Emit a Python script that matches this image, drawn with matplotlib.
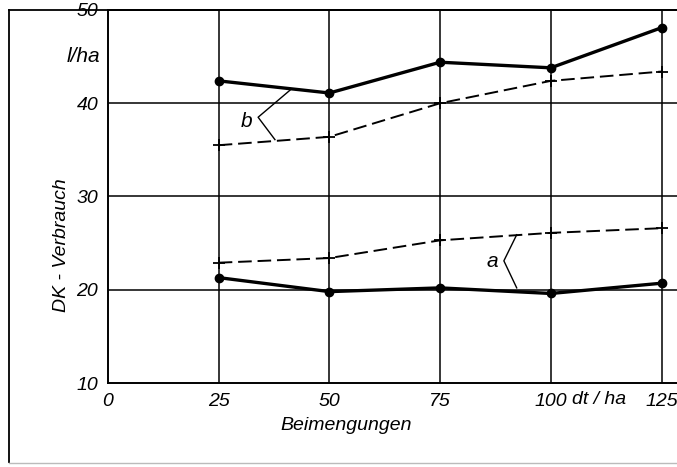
import matplotlib
matplotlib.use("Agg")
import matplotlib.pyplot as plt
from matplotlib.lines import Line2D

plt.rcParams['font.family'] = ['Liberation Sans', 'DejaVu Sans']

x = [25, 50, 75, 100, 125]
b_solid = [42.4, 41.1, 44.4, 43.8, 48.1]
b_dashed = [35.5, 36.4, 40.0, 42.4, 43.4]
a_solid = [21.3, 19.8, 20.2, 19.6, 20.7]
a_dashed = [22.9, 23.4, 25.3, 26.1, 26.6]
xticks = [0, 25, 50, 75, 100, 125]
xticklabels = ['0', '25', '50', '75', '100', '125']
yticks = [10, 20, 30, 40, 50]
yticklabels = ['10', '20', '30', '40', '50']

fig = plt.figure(figsize=(6.77, 4.67), dpi=100)
ax = fig.add_axes([108/677, 1-383/467, 1-108/677, 373/467])
ax.set_xlim(0, 128.5)
ax.set_ylim(10, 50)

# grid
for xv in x:
    ax.axvline(xv, color='black', lw=1.1, zorder=1)
for yv in [20, 30, 40]:
    ax.axhline(yv, color='black', lw=1.1, zorder=1)

ax.spines['right'].set_visible(False)
for s in ['left', 'bottom', 'top']:
    ax.spines[s].set_linewidth(1.4)

ax.set_xticks(xticks)
ax.set_xticklabels(xticklabels)
ax.set_yticks(yticks)
ax.set_yticklabels(yticklabels)
ax.tick_params(length=0, labelsize=14, pad=7)
for lab in ax.get_xticklabels() + ax.get_yticklabels():
    lab.set_style('italic')

lw_s, lw_d = 2.4, 1.4
dash = (0, (7, 3))
ax.plot(x, b_solid, color='black', lw=lw_s, marker='o', ms=6, zorder=3)
ax.plot(x, b_dashed, color='black', lw=lw_d, ls=dash, marker='+', ms=9, mew=1.3, zorder=3)
ax.plot(x, a_solid, color='black', lw=lw_s, marker='o', ms=6, zorder=3)
ax.plot(x, a_dashed, color='black', lw=lw_d, ls=dash, marker='+', ms=9, mew=1.3, zorder=3)

# bracket labels
ax.plot([41.1, 33.9, 37.7], [41.4, 38.5, 36.1], color='black', lw=1.0, zorder=3)
ax.text(32.5, 38.0, 'b', fontsize=15, style='italic', ha='right', va='center')
ax.plot([92.3, 89.4, 92.3], [25.9, 23.1, 20.2], color='black', lw=1.0, zorder=3)
ax.text(88.0, 23.0, 'a', fontsize=15, style='italic', ha='right', va='center')

ax.text(111, 8.2, 'dt / ha', fontsize=14, style='italic', ha='center', va='center',
        clip_on=False)
ax.text(-1.8, 45.0, 'l/ha', fontsize=15, style='italic', ha='right', va='center',
        clip_on=False)
ax.text(53.7, 5.4, 'Beimengungen', fontsize=14, style='italic', ha='center', va='center',
        clip_on=False)
fig.text(62/677, 1-245/467, 'DK - Verbrauch', fontsize=14, style='italic', rotation=90,
         ha='center', va='center')

# outer frame
fig.add_artist(Line2D([9/677, 9/677], [1-10/467, 1-462/467], transform=fig.transFigure,
                      color='black', lw=1.3))
fig.add_artist(Line2D([9/677, 1], [1-10/467, 1-10/467], transform=fig.transFigure,
                      color='black', lw=1.3))
fig.add_artist(Line2D([9/677, 1], [1-463/467, 1-463/467], transform=fig.transFigure,
                      color='#bbbbbb', lw=1.0))

fig.savefig('out.png', dpi=100)
